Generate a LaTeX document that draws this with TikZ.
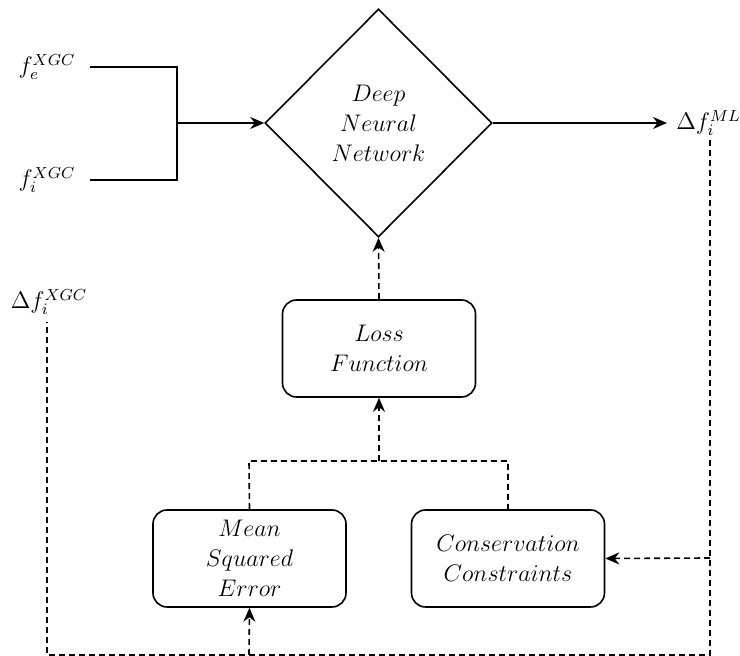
\documentclass[tikz,border=0pt]{standalone}
\usetikzlibrary{shapes.geometric,arrows.meta}
\begin{document}
\begin{tikzpicture}[x=0.5pt,y=-0.5pt,
  every node/.style={font=\fontsize{11.5}{15}\selectfont},
  line/.style={line width=0.8pt},
  dline/.style={line width=0.8pt,dash pattern=on 3pt off 2pt},
  arr/.style={-{Stealth[length=7pt,width=6pt]}},
  rbox/.style={draw,line width=0.8pt,rounded corners=7pt,minimum width=96.5pt,minimum height=48.5pt,align=center,inner sep=0pt},
  lbl/.style={inner sep=0pt}]
\useasboundingbox (0,0) rectangle (740,656);
% nodes
\node[lbl] (fe) at (47,67) {$f_e^{XGC}$};
\node[lbl] (fi) at (47,180) {$f_i^{XGC}$};
\node[lbl] (dxgc) at (49,302) {$\Delta f_i^{XGC}$};
\node[lbl,anchor=west] (dml) at (676,123) {$\Delta f_i^{ML}$};
\node[draw,diamond,aspect=1,line width=0.8pt,minimum width=113.5pt,minimum height=114pt,inner sep=0pt,align=center] (dnn) at (378.5,123) {$Deep$\\$Neural$\\$Network$};
\node[rbox] (loss) at (379,348.5) {$Loss$\\$Function$};
\node[rbox] (mse) at (249.5,558.5) {$Mean$\\$Squared$\\$Error$};
\node[rbox] (cons) at (508,558.5) {$Conservation$\\$Constraints$};
% coordinates
\coordinate (ae) at (90,67);
\coordinate (ai) at (90,180);
\coordinate (je) at (177,67);
\coordinate (ji) at (177,180);
\coordinate (jm) at (177,123);
\coordinate (mlt) at (710,140);
\coordinate (mlc) at (710,558);
\coordinate (mlb) at (710,655);
\coordinate (xt) at (47,322);
\coordinate (xb) at (47,655);
\coordinate (mb) at (249,655);
\coordinate (jl) at (249,461);
\coordinate (jr) at (508,461);
\coordinate (jc) at (379,461);
\coordinate (mlend) at (667,123);
% solid connectors
\draw[line] (ae) -- (je) -- (ji) -- (ai);
\draw[line,arr] (jm) -- (dnn.west);
\draw[line,arr] (dnn.east) -- (mlend);
% dashed connectors
\draw[dline,arr] (loss.north) -- (dnn.south);
\draw[dline] (mse.north) -- (jl) -- (jr) -- (cons.north);
\draw[dline,arr] (jc) -- (loss.south);
\draw[dline] (mlt) -- (mlb) -- (xb) -- (xt);
\draw[dline,arr] (mlc) -- (cons.east);
\draw[dline,arr] (mb) -- (mse.south);
\end{tikzpicture}
\end{document}
